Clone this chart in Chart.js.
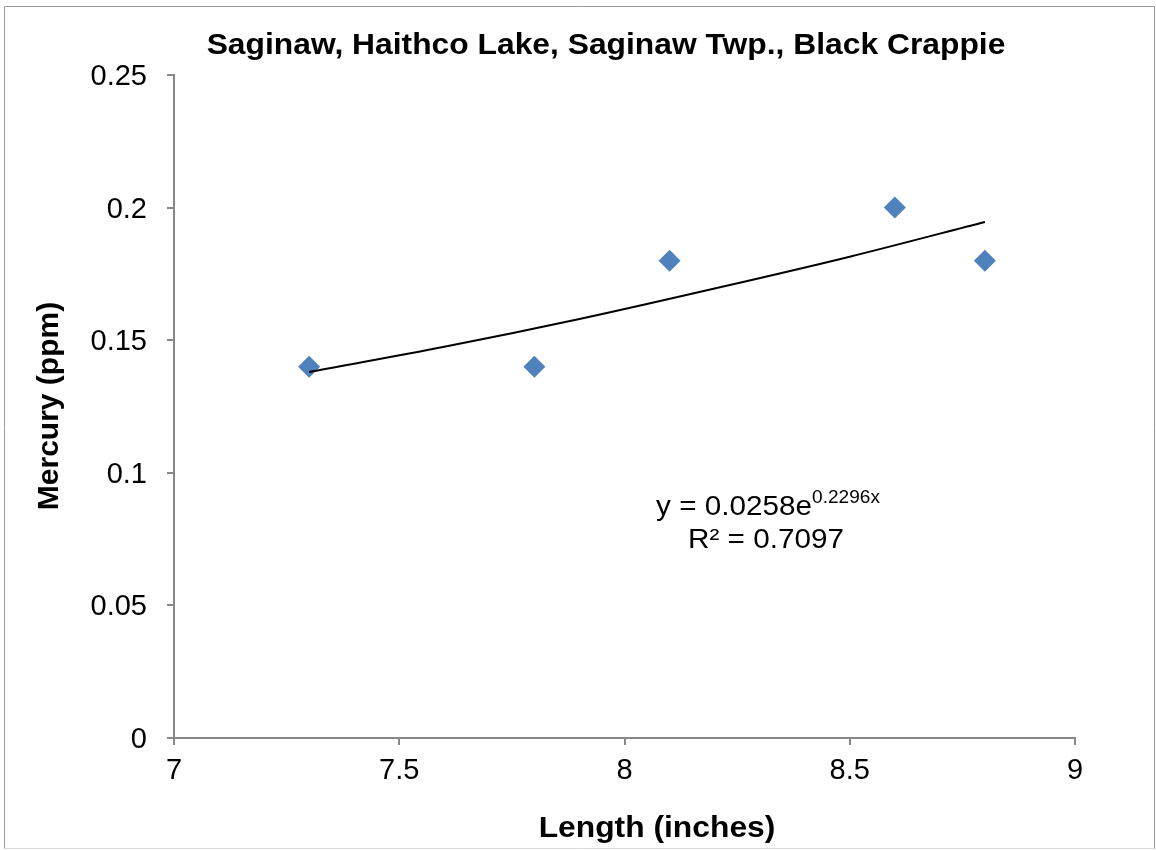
<!DOCTYPE html>
<html>
<head>
<meta charset="utf-8">
<script src="https://cdn.jsdelivr.net/npm/chart.js@4.4.1/dist/chart.umd.min.js"></script>
<style>
  body { margin: 0; background: #fff; }
  #wrap { width: 1156px; height: 850px; }
</style>
</head>
<body>
<div id="wrap"><canvas id="chart" width="1156" height="850"></canvas></div>
<script>
const lengths = [7.3, 7.8, 8.1, 8.6, 8.8];
const mercury = [0.14, 0.14, 0.18, 0.2, 0.18];

// trendline
const trendX = [7.3, 7.6, 7.9, 8.2, 8.5, 8.8];
const trendY = [0.138, 0.1475, 0.158, 0.1695, 0.1815, 0.1946];

const xTicks = [7, 7.5, 8, 8.5, 9];
const yTicks = [0, 0.05, 0.1, 0.15, 0.2, 0.25];

const chartTitle = 'Saginaw, Haithco Lake, Saginaw Twp., Black Crappie';
const xTitle = 'Length (inches)';
const yTitle = 'Mercury (ppm)';
const eqMain = 'y = 0.0258e';
const eqSup = '0.2296x';
const eqR2 = 'R\u00B2 = 0.7097';

const FONT = 'Arial, "Liberation Sans", sans-serif';
const STRETCH = 1.06; // reference text is slightly wider than Liberation Sans

function wideText(ctx, text, x, y) {
  ctx.save();
  ctx.translate(x, y);
  ctx.scale(STRETCH, 1);
  ctx.fillText(text, 0, 0);
  ctx.restore();
}

const decorations = {
  id: 'decorations',
  afterDraw(chart) {
    const ctx = chart.ctx;
    ctx.save();

    // outer border
    ctx.strokeStyle = '#9a9a9a';
    ctx.lineWidth = 1;
    ctx.beginPath();
    ctx.moveTo(4.5, 849);
    ctx.lineTo(4.5, 6.5);
    ctx.lineTo(1154.5, 6.5);
    ctx.lineTo(1154.5, 849);
    ctx.stroke();
    ctx.strokeStyle = '#dcdcdc';
    ctx.beginPath();
    ctx.moveTo(4.5, 848.5);
    ctx.lineTo(1154.5, 848.5);
    ctx.stroke();

    ctx.fillStyle = '#000';
    ctx.textBaseline = 'alphabetic';
    ctx.textAlign = 'center';

    ctx.font = 'bold 30px ' + FONT;
    wideText(ctx, chartTitle, 606, 54);
    wideText(ctx, xTitle, 657, 837);

    ctx.save();
    ctx.translate(58, 406);
    ctx.rotate(-Math.PI / 2);
    ctx.fillText(yTitle, 0, 0);
    ctx.restore();

    // equation label
    ctx.textAlign = 'left';
    ctx.font = '28px ' + FONT;
    const w1 = ctx.measureText(eqMain).width * STRETCH;
    ctx.font = '18px ' + FONT;
    const w2 = ctx.measureText(eqSup).width * STRETCH;
    const cx = 768;
    const left = cx - (w1 + w2) / 2;
    ctx.font = '28px ' + FONT;
    wideText(ctx, eqMain, left, 515);
    ctx.font = '18px ' + FONT;
    wideText(ctx, eqSup, left + w1, 503);
    ctx.font = '28px ' + FONT;
    ctx.textAlign = 'center';
    wideText(ctx, eqR2, 766, 548);

    ctx.restore();
  }
};

new Chart(document.getElementById('chart'), {
  type: 'scatter',
  data: {
    datasets: [{
      label: 'Mercury',
      data: lengths.map((x, i) => ({ x, y: mercury[i] })),
      backgroundColor: '#4F81BD',
      borderColor: '#4F81BD',
      borderWidth: 0,
      pointStyle: 'rectRot',
      pointRadius: 11,
      pointHoverRadius: 11,
      order: 2
    }, {
      type: 'line',
      label: 'Trend',
      data: trendX.map((x, i) => ({ x, y: trendY[i] })),
      borderColor: '#000',
      borderWidth: 2,
      pointRadius: 0,
      tension: 0.4,
      cubicInterpolationMode: 'monotone',
      fill: false,
      order: 1
    }]
  },
  options: {
    responsive: false,
    animation: false,
    layout: { padding: { left: 0, top: 75, right: 81, bottom: 0 } },
    plugins: {
      legend: { display: false },
      tooltip: { enabled: false },
      title: { display: false }
    },
    scales: {
      x: {
        type: 'linear',
        min: 7,
        max: 9,
        afterFit(scale) { scale.height = 112; },
        afterBuildTicks(scale) { scale.ticks = xTicks.map(v => ({ value: v })); },
        grid: { drawOnChartArea: false, drawTicks: true, tickLength: 7, color: '#888', lineWidth: 2 },
        border: { display: true, color: '#888', width: 2 },
        ticks: {
          color: '#000',
          font: { family: FONT, size: 29 },
          padding: 9,
          maxRotation: 0,
          callback: v => String(v)
        }
      },
      y: {
        type: 'linear',
        min: 0,
        max: 0.25,
        afterFit(scale) { scale.width = 174; },
        afterBuildTicks(scale) { scale.ticks = yTicks.map(v => ({ value: v })); },
        grid: { drawOnChartArea: false, drawTicks: true, tickLength: 7, color: '#888', lineWidth: 2 },
        border: { display: true, color: '#888', width: 2 },
        ticks: {
          color: '#000',
          font: { family: FONT, size: 29 },
          padding: 20,
          labelOffset: 2,
          callback: v => String(v)
        }
      }
    }
  },
  plugins: [decorations]
});
</script>
</body>
</html>
